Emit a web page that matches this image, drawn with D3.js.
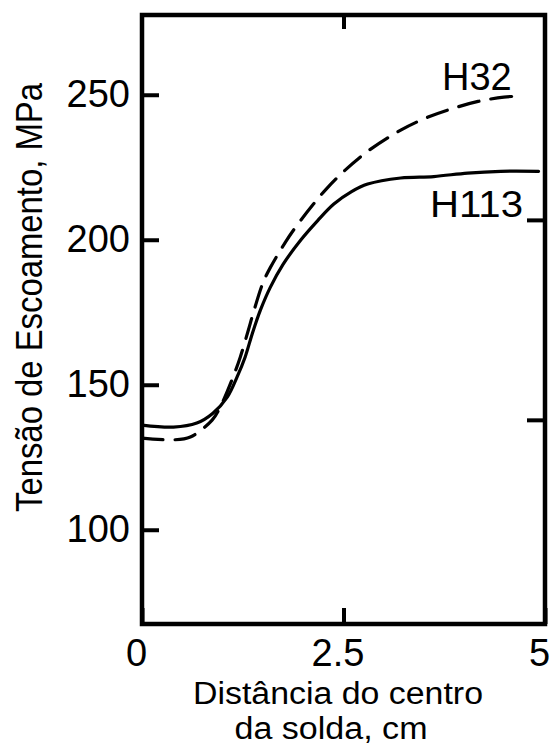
<!DOCTYPE html>
<html>
<head>
<meta charset="utf-8">
<script src="https://cdn.jsdelivr.net/npm/d3@7"></script>
<style>
  body { margin: 0; background: #fff; }
  svg text { font-family: "Liberation Sans", Arial, sans-serif; fill: #000; }
</style>
</head>
<body>
<svg id="chart" width="551" height="747"></svg>
<script>
// distancia do centro da solda (cm) e tensao de escoamento (MPa)
const distH113 = [0, 0.39, 0.68, 0.88, 1.06, 1.18, 1.28, 1.37, 1.47, 1.59, 1.75, 1.97, 2.18, 2.38, 2.6, 2.8, 3.21, 3.62, 4.04, 4.45, 4.92]
const tensH113 = [136.1, 135.4, 136.8, 140.2, 145.8, 152.7, 159.6, 167.8, 175.8, 183.5, 191.5, 199.9, 206.6, 212.3, 216.6, 219.2, 221.3, 221.8, 223, 223.6, 223.6]

const distH32 = [0, 0.39, 0.6, 0.87, 0.97, 1.13, 1.22, 1.32, 1.38, 1.5, 1.59, 1.78, 1.9, 2.13, 2.28, 2.5, 2.8, 3.21, 3.55, 3.87, 4.17, 4.49, 4.68]
const tensH32 = [131.6, 131, 132, 137.8, 142.3, 152.7, 159.6, 168.9, 174.7, 185.1, 190.3, 199.2, 204.1, 212.4, 217.3, 223.5, 230.5, 237.8, 242.3, 245.4, 247.7, 249.2, 249.5]

const yTicks = [100, 150, 200, 250]
const xTicks = [0, 2.5, 5]
const ksiTicks = [20, 30]   // eixo da direita em ksi, sem rotulo

const svg = d3.select("#chart")

const x = d3.scaleLinear().domain([0, 5]).range([142, 545])
const y = d3.scaleLinear().domain([67.5, 277.5]).range([624, 15])

// MOLDURA
svg.append("rect")
  .attr("x", x(0))
  .attr("y", y(277.5))
  .attr("width", x(5) - x(0))
  .attr("height", y(67.5) - y(277.5))
  .attr("fill", "none")
  .attr("stroke", "#000")
  .attr("stroke-width", 4.5)

// EIXO Y
const axisLeft = d3.axisLeft(y).tickValues(yTicks).tickSize(-17).tickPadding(12)
svg.append("g")
  .attr("transform", `translate(${x(0)},0)`)
  .call(axisLeft)
  .call(g => g.select(".domain").remove())
  .call(g => g.selectAll("line").attr("stroke-width", 4))
  .call(g => g.selectAll("text").attr("font-size", 38).attr("font-family", null))

// EIXO X
const axisBottom = d3.axisBottom(x).tickValues(xTicks).tickSize(-16).tickPadding(15)
  .tickFormat(d => String(d))
svg.append("g")
  .attr("transform", `translate(0,${y(67.5)})`)
  .call(axisBottom)
  .call(g => g.select(".domain").remove())
  .call(g => g.selectAll("line").attr("stroke-width", 4))
  .call(g => g.selectAll("text").attr("font-size", 38).attr("font-family", null).attr("dx", -6))

// tick de cima
svg.append("g")
  .attr("transform", `translate(0,${y(277.5)})`)
  .call(d3.axisTop(x).tickValues([2.5]).tickSize(-14).tickFormat(""))
  .call(g => g.select(".domain").remove())
  .call(g => g.selectAll("line").attr("stroke-width", 4))

// ticks da direita (ksi -> MPa)
const yKsi = d3.scaleLinear().domain(y.domain().map(v => v / 6.895)).range(y.range())
svg.append("g")
  .attr("transform", `translate(${x(5)},0)`)
  .call(d3.axisRight(yKsi).tickValues(ksiTicks).tickSize(-18).tickFormat(""))
  .call(g => g.select(".domain").remove())
  .call(g => g.selectAll("line").attr("stroke-width", 4))

// CURVAS
const line = d3.line()
  .x(d => x(d[0]))
  .y(d => y(d[1]))
  .curve(d3.curveCatmullRom.alpha(0.5))

svg.append("path")
  .datum(d3.zip(distH113, tensH113))
  .attr("d", line)
  .attr("fill", "none")
  .attr("stroke", "#000")
  .attr("stroke-width", 3.2)
  .attr("stroke-linecap", "round")

svg.append("path")
  .datum(d3.zip(distH32, tensH32))
  .attr("d", line)
  .attr("fill", "none")
  .attr("stroke", "#000")
  .attr("stroke-width", 3.2)
  .attr("stroke-dasharray", "21,12")
  .attr("stroke-linecap", "round")

// ROTULOS DAS CURVAS
svg.append("text").attr("x", 442).attr("y", 90).attr("font-size", 38).text("H32")
svg.append("text").attr("x", 430).attr("y", 217).attr("font-size", 37)
  .attr("textLength", 93).attr("lengthAdjust", "spacingAndGlyphs").text("H113")

// TITULOS DOS EIXOS
svg.append("text")
  .attr("transform", "translate(42,297.5) rotate(-90)")
  .attr("text-anchor", "middle")
  .attr("font-size", 36)
  .attr("textLength", 429)
  .attr("lengthAdjust", "spacingAndGlyphs")
  .text("Tensão de Escoamento, MPa")

svg.append("text")
  .attr("x", 338).attr("y", 704)
  .attr("text-anchor", "middle")
  .attr("font-size", 31)
  .attr("textLength", 290)
  .attr("lengthAdjust", "spacingAndGlyphs")
  .text("Distância do centro")

svg.append("text")
  .attr("x", 331).attr("y", 739)
  .attr("text-anchor", "middle")
  .attr("font-size", 31)
  .attr("textLength", 193)
  .attr("lengthAdjust", "spacingAndGlyphs")
  .text("da solda, cm")
</script>
</body>
</html>
